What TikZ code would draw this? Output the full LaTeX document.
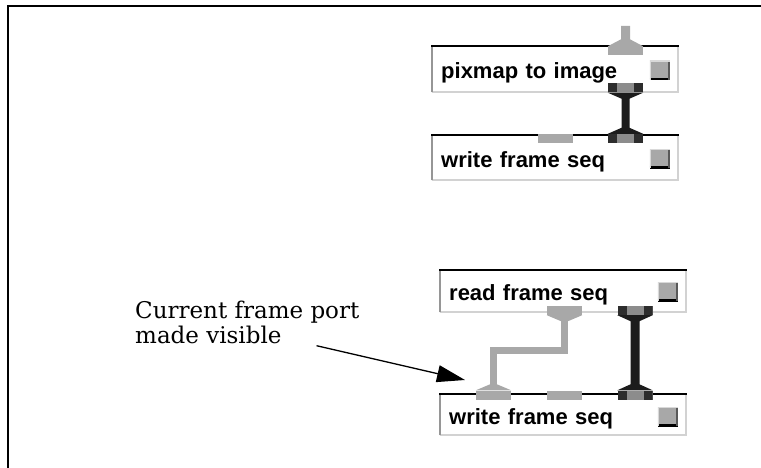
\documentclass[tikz,border=0pt]{standalone}
\usepackage{fontspec}
\newfontfamily\boxfont{Liberation Sans}
\newfontfamily\annfont{DejaVu Serif}
\usetikzlibrary{arrows.meta,calc}
\definecolor{wiregray}{RGB}{168,168,168}
\definecolor{portmid}{RGB}{140,140,140}
\definecolor{portdark}{RGB}{45,45,45}
\definecolor{wireblack}{RGB}{28,28,28}
\definecolor{edgeleft}{RGB}{150,150,150}
\definecolor{edgelight}{RGB}{210,210,210}
\begin{document}
\begin{tikzpicture}[x=1pt,y=-1pt,
  fbox/.style={rectangle, fill=white, anchor=north west, minimum width=246pt,
    inner xsep=9pt, inner ysep=0pt, text width=228pt, align=left,
    text height=20pt, text depth=1pt,
    font=\boxfont\bfseries\fontsize{22}{22}\selectfont},
  port/.style={rectangle, inner sep=0pt, minimum width=35pt, minimum height=9pt, fill=wiregray},
  darkport/.style={port, fill=portmid, path picture={
    \fill[portdark] (path picture bounding box.north west) rectangle ([xshift=9pt]path picture bounding box.south west);
    \fill[portdark] (path picture bounding box.north east) rectangle ([xshift=-9pt]path picture bounding box.south east);}},
  btn/.style={rectangle, inner sep=0pt, minimum width=20pt, minimum height=19pt, fill=wiregray,
    path picture={
    \draw[black, line width=4pt] (path picture bounding box.south west) -- (path picture bounding box.south east);
    \draw[black!65, line width=3pt] (path picture bounding box.south east) -- (path picture bounding box.north east);
    \draw[white!85!black, line width=2pt] (path picture bounding box.south west) -- (path picture bounding box.north west) -- (path picture bounding box.north east);}},
  ann/.style={align=left, inner sep=0pt, font=\annfont\fontsize{23}{25}\selectfont},
  pointer/.style={line width=1.3pt, -{Triangle[length=28pt,width=17pt]}}
]
\useasboundingbox (0,0) rectangle (761,468);
\draw[line width=2pt] (7.5,468) -- (7.5,6.5) -- (761,6.5);

% boxes
\node[fbox, minimum height=46pt] (b1) at (432,46) {pixmap to image};
\node[fbox, minimum height=45pt] (b2) at (432,135) {write frame seq};
\node[fbox, minimum height=42pt] (b3) at (440,270) {read frame seq};
\node[fbox, minimum height=41pt] (b4) at (440,394) {write frame seq};
\foreach \b in {b1,b2,b3,b4}{
  \draw[edgelight, line width=2pt] (\b.south west) -- (\b.south east) -- (\b.north east);
  \draw[edgeleft, line width=2.5pt] (\b.south west) -- (\b.north west);
  \draw[line width=2.2pt] ([xshift=-1pt]\b.north west) -- ([xshift=1pt]\b.north east);
}

% buttons
\node[btn] (k1) at ($(b1.east)+(-18.5,1)$) {};
\node[btn] (k2) at ($(b2.east)+(-18.5,1)$) {};
\node[btn] (k3) at ($(b3.east)+(-18.5,0.5)$) {};
\node[btn] (k4) at ($(b4.east)+(-18.5,2)$) {};

% ports
\node[port] (p1in) at (625.5,51) {};
\node[darkport] (p1out) at (625.5,88) {};
\node[port] (p2a) at (555,138.5) {};
\node[darkport] (p2in) at (625.5,138.5) {};
\node[port] (p3a) at (564.5,310.5) {};
\node[darkport] (p3out) at (635,310.5) {};
\node[port] (p4a) at (493.5,395) {};
\node[port] (p4b) at (564.5,395) {};
\node[darkport] (p4in) at (635,395) {};

% incoming stub on pixmap to image
\coordinate (s1) at (625.5,26);
\fill[wiregray] ($(s1)+(-4.5,0)$) -- ($(s1)+(4.5,0)$) -- ($(p1in.north)+(4.5,-7)$)
  -- (p1in.north east) -- (p1in.north west) -- ($(p1in.north)+(-4.5,-7)$) -- cycle;

% black wires
\fill[wireblack] (p1out.south west) -- ($(p1out.south)+(-4,6)$) -- ($(p2in.north)+(-4,-6)$)
  -- (p2in.north west) -- (p2in.north east) -- ($(p2in.north)+(4,-6)$)
  -- ($(p1out.south)+(4,6)$) -- (p1out.south east) -- cycle;
\fill[wireblack] (p3out.south west) -- ($(p3out.south)+(-4.5,6)$) -- ($(p4in.north)+(-4.5,-6)$)
  -- (p4in.north west) -- (p4in.north east) -- ($(p4in.north)+(4.5,-6)$)
  -- ($(p3out.south)+(4.5,6)$) -- (p3out.south east) -- cycle;

% gray wire
\coordinate (g) at (0,350);
\draw[wiregray, line width=7pt] ($(p3a.south)+(0,5)$) -- (p3a.south |- g) -- (p4a.north |- g) -- ($(p4a.north)+(0,-5)$);
\fill[wiregray] (p3a.south west) -- (p3a.south east) -- ($(p3a.south)+(3.5,6)$) -- ($(p3a.south)+(-3.5,6)$) -- cycle;
\fill[wiregray] (p4a.north west) -- (p4a.north east) -- ($(p4a.north)+(3.5,-6)$) -- ($(p4a.north)+(-3.5,-6)$) -- cycle;

% annotation
\node[ann, anchor=north west] (ann) at (135,300.5) {Current frame port\\made visible};
\coordinate (atip) at (465,380);
\draw[pointer] ($(ann.south east)+(-43,2)$) -- (atip);
\end{tikzpicture}
\end{document}
